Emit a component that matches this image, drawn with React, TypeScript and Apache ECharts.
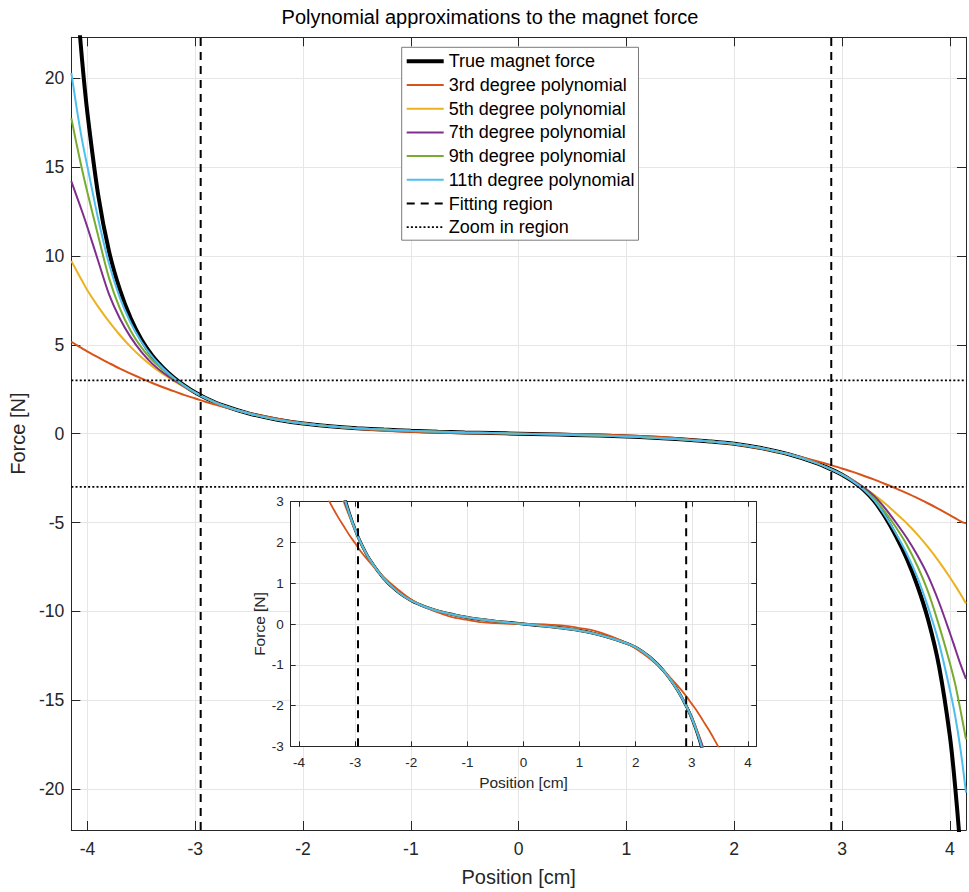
import React, { useEffect, useRef } from "react";
import * as echarts from "echarts";

// ---------- data ----------
const positions = [
  -4.15, -4.1, -4.05, -4.0, -3.9, -3.8, -3.7, -3.6, -3.5, -3.4, -3.3, -3.2, -3.1, -3.0,
  -2.9, -2.75, -2.5, -2.25, -2.0, -1.75, -1.5, -1.25, -1.0, -0.75, -0.5, -0.25,
  0,
  0.25, 0.5, 0.75, 1.0, 1.25, 1.5, 1.75, 2.0, 2.25, 2.5, 2.75, 2.9,
  3.0, 3.1, 3.2, 3.3, 3.4, 3.5, 3.6, 3.7, 3.8, 3.9, 4.0, 4.05, 4.1, 4.15,
];
const trueForce = [
  29.3, 24.7, 21.0, 18.0, 13.4, 10.25, 8.1, 6.5, 5.3, 4.4, 3.72, 3.16, 2.7, 2.31,
  1.99, 1.6, 1.13, 0.8, 0.57, 0.42, 0.31, 0.23, 0.16, 0.11, 0.07, 0.035,
  0,
  -0.035, -0.07, -0.11, -0.16, -0.23, -0.32, -0.43, -0.57, -0.81, -1.15, -1.63, -2.01,
  -2.31, -2.69, -3.16, -3.81, -4.69, -5.76, -7.02, -8.57, -10.5, -13.1, -17.0, -19.9, -23.6, -28.5,
];
const poly3 = [
  5.17, 4.98, 4.8, 4.62, 4.29, 3.97, 3.66, 3.38, 3.11, 2.85, 2.61, 2.39, 2.17, 1.98,
  1.78, 1.53, 1.16, 0.86, 0.6, 0.41, 0.27, 0.16, 0.1, 0.044, 0.02, 0.006,
  0,
  -0.006, -0.02, -0.044, -0.1, -0.16, -0.27, -0.41, -0.6, -0.85, -1.15, -1.52, -1.77,
  -1.96, -2.15, -2.37, -2.59, -2.83, -3.08, -3.35, -3.63, -3.93, -4.25, -4.58, -4.75, -4.93, -5.05,
];
const poly5 = [
  9.72, 9.15, 8.6, 8.05, 7.13, 6.3, 5.55, 4.88, 4.3, 3.8, 3.36, 2.97, 2.62, 2.3,
  1.99, 1.6, 1.13, 0.8, 0.57, 0.42, 0.31, 0.23, 0.16, 0.11, 0.07, 0.035,
  0,
  -0.035, -0.07, -0.11, -0.16, -0.23, -0.32, -0.43, -0.57, -0.81, -1.15, -1.63, -2.01,
  -2.3, -2.62, -3.02, -3.45, -3.93, -4.48, -5.04, -5.68, -6.4, -7.2, -8.08, -8.55, -9.04, -9.55,
];
const poly7 = [
  14.2, 13.35, 12.5, 11.6, 9.7, 7.84, 6.48, 5.43, 4.6, 3.94, 3.44, 3.02, 2.65, 2.3,
  1.99, 1.6, 1.13, 0.8, 0.57, 0.42, 0.31, 0.23, 0.16, 0.11, 0.07, 0.035,
  0,
  -0.035, -0.07, -0.11, -0.16, -0.23, -0.32, -0.43, -0.57, -0.81, -1.15, -1.63, -2.01,
  -2.3, -2.64, -3.02, -3.52, -4.2, -5.0, -5.86, -6.86, -8.03, -9.5, -11.2, -12.1, -13.0, -13.8,
];
const poly9 = [
  17.75, 16.25, 14.85, 13.55, 11.1, 8.75, 7.05, 5.79, 4.85, 4.14, 3.59, 3.11, 2.69, 2.31,
  1.99, 1.6, 1.13, 0.8, 0.57, 0.42, 0.31, 0.23, 0.16, 0.11, 0.07, 0.035,
  0,
  -0.035, -0.07, -0.11, -0.16, -0.23, -0.32, -0.43, -0.57, -0.81, -1.15, -1.63, -2.01,
  -2.31, -2.68, -3.11, -3.68, -4.41, -5.27, -6.25, -7.46, -8.93, -10.8, -12.9, -14.1, -15.6, -17.2,
];
const poly11 = [
  20.3, 18.3, 16.5, 15.0, 12.06, 9.56, 7.65, 6.24, 5.17, 4.33, 3.68, 3.14, 2.695, 2.31,
  1.99, 1.6, 1.13, 0.8, 0.57, 0.42, 0.31, 0.23, 0.16, 0.11, 0.07, 0.035,
  0,
  -0.035, -0.07, -0.11, -0.16, -0.23, -0.32, -0.43, -0.57, -0.81, -1.15, -1.63, -2.01,
  -2.31, -2.685, -3.14, -3.77, -4.62, -5.62, -6.74, -8.1, -9.8, -11.8, -14.4, -15.9, -17.8, -20.2,
];

const curveNames = [
  "True magnet force",
  "3rd degree polynomial",
  "5th degree polynomial",
  "7th degree polynomial",
  "9th degree polynomial",
  "11th degree polynomial",
];
const fittingName = "Fitting region";
const zoomName = "Zoom in region";
const fittingRegion = [-2.95, 2.9];
const zoomRegion = [-3, 3];
const xLimits = [-4.15, 4.15];
const yLimits = [-22.3, 22.3];
const insetYLimits = [-3, 3];
const titleText = "Polynomial approximations to the magnet force";

// ---------- styling / layout ----------
const COLORS = ["#000000", "#D95319", "#EDB120", "#7E2F8E", "#77AC30", "#4DBEEE"];
const FONT = "'Liberation Sans', Arial, Helvetica, sans-serif";
const TEXT = "#262626";
const GRIDC = "#e6e6e6";
const MAIN = { left: 69.3, top: 37.3, width: 900.5, height: 796.7 };
const INSET = { left: 290.7, top: 501.7, width: 465.6, height: 244.6 };

const intLabel = (v: number) => (Math.abs(v - Math.round(v)) < 1e-6 ? String(Math.round(v)) : "");
const fiveLabel = (v: number) => (Math.abs(v / 5 - Math.round(v / 5)) < 1e-6 ? String(Math.round(v)) : "");

export default function App() {
  const ref = useRef<HTMLDivElement>(null);

  useEffect(() => {
    const chart = echarts.init(ref.current!, null, { renderer: "svg" });
    const curves = [trueForce, poly3, poly5, poly7, poly9, poly11].map((vals) =>
      positions.map((x, i) => [x, vals[i]])
    );

    const axisCommon = (z: number, tickLen: number) => ({
      type: "value" as const,
      z,
      axisLine: { show: true, onZero: false, lineStyle: { color: TEXT, width: 1 } },
      axisTick: { show: true, inside: true, length: tickLen, lineStyle: { color: TEXT, width: 1 } },
    });

    const xMain = (pos: "bottom" | "top") => ({
      ...axisCommon(0, 9),
      gridIndex: 0,
      position: pos,
      min: xLimits[0],
      max: xLimits[1],
      splitNumber: 8,
      axisLabel: {
        show: pos === "bottom",
        color: TEXT,
        fontSize: 17.6,
        fontFamily: FONT,
        margin: 10,
        formatter: intLabel,
      },
      splitLine: { show: pos === "bottom", lineStyle: { color: GRIDC, width: 1 } },
      ...(pos === "bottom"
        ? {
            name: "Position [cm]",
            nameLocation: "middle",
            nameGap: 37,
            nameTextStyle: { color: TEXT, fontSize: 20, fontFamily: FONT },
          }
        : {}),
    });
    const yMain = (pos: "left" | "right") => ({
      ...axisCommon(0, 9),
      gridIndex: 0,
      position: pos,
      min: yLimits[0],
      max: yLimits[1],
      splitNumber: 9,
      axisLabel: {
        show: pos === "left",
        color: TEXT,
        fontSize: 17.6,
        fontFamily: FONT,
        margin: 7,
        formatter: fiveLabel,
      },
      splitLine: { show: pos === "left", lineStyle: { color: GRIDC, width: 1 } },
      ...(pos === "left"
        ? {
            name: "Force [N]",
            nameLocation: "middle",
            nameGap: 35,
            nameTextStyle: { color: TEXT, fontSize: 20, fontFamily: FONT },
          }
        : {}),
    });
    const xInset = (pos: "bottom" | "top") => ({
      ...axisCommon(3, 5),
      gridIndex: 1,
      position: pos,
      min: xLimits[0],
      max: xLimits[1],
      splitNumber: 8,
      axisLabel: {
        show: pos === "bottom",
        color: TEXT,
        fontSize: 13.5,
        fontFamily: FONT,
        margin: 9,
        formatter: intLabel,
      },
      splitLine: { show: pos === "bottom", lineStyle: { color: GRIDC, width: 1 } },
      ...(pos === "bottom"
        ? {
            name: "Position [cm]",
            nameLocation: "middle",
            nameGap: 28,
            nameTextStyle: { color: TEXT, fontSize: 15.5, fontFamily: FONT },
          }
        : {}),
    });
    const yInset = (pos: "left" | "right") => ({
      ...axisCommon(3, 5),
      gridIndex: 1,
      position: pos,
      min: insetYLimits[0],
      max: insetYLimits[1],
      interval: 1,
      axisLabel: {
        show: pos === "left",
        color: TEXT,
        fontSize: 13.5,
        fontFamily: FONT,
        margin: 7,
        formatter: intLabel,
      },
      splitLine: { show: pos === "left", lineStyle: { color: GRIDC, width: 1 } },
      ...(pos === "left"
        ? {
            name: "Force [N]",
            nameLocation: "middle",
            nameGap: 23,
            nameTextStyle: { color: TEXT, fontSize: 15.5, fontFamily: FONT },
          }
        : {}),
    });

    const curveSeries = (xi: number, yi: number, blackW: number, colW: number, z: number) =>
      curves.map((data, k) => ({
        name: curveNames[k],
        type: "line",
        xAxisIndex: xi,
        yAxisIndex: yi,
        data,
        symbol: "none",
        showSymbol: false,
        smooth: 0.3,
        clip: true,
        silent: true,
        z,
        lineStyle: { color: COLORS[k], width: k === 0 ? blackW : colW },
        itemStyle: { color: COLORS[k] },
      }));

    const dashStyle = { color: "#000", width: 2, type: [8, 6] as any };
    const dotStyle = { color: "#000", width: 1.8, type: [2, 2.2] as any };

    const fittingSeries = (xi: number, yi: number, lim: number[], z: number) =>
      fittingRegion.map((x) => ({
        name: fittingName,
        type: "line",
        xAxisIndex: xi,
        yAxisIndex: yi,
        data: [
          [x, lim[0]],
          [x, lim[1]],
        ],
        symbol: "none",
        silent: true,
        z,
        lineStyle: dashStyle,
        itemStyle: { color: "#000" },
      }));
    const zoomSeries = zoomRegion.map((y) => ({
      name: zoomName,
      type: "line",
      xAxisIndex: 0,
      yAxisIndex: 0,
      data: [
        [xLimits[0], y],
        [xLimits[1], y],
      ],
      symbol: "none",
      silent: true,
      z: 3,
      lineStyle: dotStyle,
      itemStyle: { color: "#000" },
    }));

    const option: any = {
      animation: false,
      backgroundColor: "#ffffff",
      grid: [
        { left: MAIN.left, top: MAIN.top, width: MAIN.width, height: MAIN.height, containLabel: false },
        { left: INSET.left, top: INSET.top, width: INSET.width, height: INSET.height, containLabel: false },
      ],
      xAxis: [xMain("bottom"), xMain("top"), xInset("bottom"), xInset("top")],
      yAxis: [yMain("left"), yMain("right"), yInset("left"), yInset("right")],
      legend: {
        left: 401.7,
        top: 47.3,
        orient: "vertical",
        data: [...curveNames, fittingName, zoomName],
        itemWidth: 37,
        itemHeight: 14,
        itemGap: 5.7,
        padding: [5, 4, 4, 3],
        backgroundColor: "#ffffff",
        borderColor: "#7a7a7a",
        borderWidth: 1,
        borderRadius: 0,
        selectedMode: false,
        itemStyle: { color: "rgba(0,0,0,0)", borderColor: "rgba(0,0,0,0)", borderWidth: 0, opacity: 0 },
        lineStyle: { width: "inherit" },
        textStyle: { color: "#000", fontSize: 18, fontFamily: FONT },
        z: 10,
      },
      graphic: [
        {
          type: "rect",
          silent: true,
          z: 1,
          shape: { x: INSET.left, y: INSET.top, width: INSET.width, height: INSET.height },
          style: { fill: "#ffffff" },
        },
        {
          type: "text",
          silent: true,
          z: 10,
          x: 490,
          y: 17,
          style: {
            text: titleText,
            fill: "#000",
            font: `20px ${FONT}`,
            fontSize: 20,
            fontFamily: FONT,
            align: "center",
            verticalAlign: "middle",
            textAlign: "center",
            textVerticalAlign: "middle",
          },
        },
      ],
      series: [
        ...curveSeries(0, 0, 4, 2, 2),
        ...fittingSeries(0, 0, yLimits, 3),
        ...zoomSeries,
        ...curveSeries(2, 2, 3, 1.8, 5),
        ...fittingSeries(2, 2, insetYLimits, 6),
      ],
    };

    chart.setOption(option);
    return () => chart.dispose();
  }, []);

  return (
    <div
      ref={ref}
      style={{ position: "fixed", left: 0, top: 0, width: 969, height: 892, background: "#fff" }}
    />
  );
}
